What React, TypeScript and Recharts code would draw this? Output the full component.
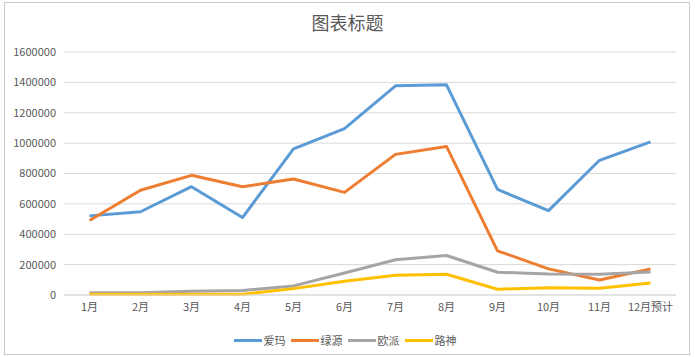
import React from 'react';
import {
  LineChart,
  Line,
  XAxis,
  YAxis,
  CartesianGrid,
  Legend,
} from 'recharts';

// category labels along the x axis
const MONTHS = ['1月', '2月', '3月', '4月', '5月', '6月', '7月', '8月', '9月', '10月', '11月', '12月预计'];

// series values
const AIMA = [521000, 548000, 713000, 510000, 962000, 1095000, 1377000, 1384000, 695000, 556000, 887000, 1008000];
const LVYUAN = [490000, 690000, 788000, 713000, 764000, 676000, 926000, 978000, 291000, 172000, 99000, 172000];
const OUPAI = [15000, 15000, 25000, 30000, 60000, 145000, 232000, 260000, 150000, 139000, 137000, 152000];
const LUSHEN = [5000, 5000, 5000, 5000, 42000, 90000, 130000, 137000, 38000, 48000, 44000, 79000];

const Y_TICKS = [0, 200000, 400000, 600000, 800000, 1000000, 1200000, 1400000, 1600000];

const SERIES = [
  { key: '爱玛', values: AIMA, color: '#5B9BD5' },
  { key: '绿源', values: LVYUAN, color: '#ED7D31' },
  { key: '欧派', values: OUPAI, color: '#A5A5A5' },
  { key: '路神', values: LUSHEN, color: '#FFC000' },
];

const data = MONTHS.map((month, i) => {
  const row: Record<string, string | number> = { month };
  SERIES.forEach((s) => {
    row[s.key] = s.values[i];
  });
  return row;
});

const FONT = '"Noto Sans CJK SC", "Noto Sans", sans-serif';
const TEXT_COLOR = '#595959';
const GRID_COLOR = '#D9D9D9';

// half of one category band (plot width 612 / 12), so points sit mid-band like excel
const BAND_PAD = 25.5;

// legend in the excel style: thick short line followed by the name, in series order
const renderLegend = () => (
  <div
    style={{
      display: 'flex',
      justifyContent: 'center',
      alignItems: 'center',
      height: 20,
      fontFamily: FONT,
      fontSize: 11,
      color: TEXT_COLOR,
    }}
  >
    {SERIES.map((s) => (
      <div key={s.key} style={{ display: 'flex', alignItems: 'center', marginRight: 5 }}>
        <div style={{ width: 28, height: 3, background: s.color, marginRight: 2 }} />
        <span>{s.key}</span>
      </div>
    ))}
  </div>
);

export default function App() {
  return (
    <div style={{ position: 'absolute', left: 0, top: 0, width: 695, height: 357, background: '#fff' }}>
      <div
        style={{
          position: 'absolute',
          left: 4,
          top: 2,
          width: 684,
          height: 351,
          border: '1px solid #C8C8C8',
        }}
      />
      <div
        style={{
          position: 'absolute',
          left: 0,
          top: 9,
          width: 695,
          textAlign: 'center',
          fontFamily: FONT,
          fontSize: 18,
          lineHeight: '26px',
          color: TEXT_COLOR,
        }}
      >
        图表标题
      </div>
      <LineChart
        width={695}
        height={357}
        data={data}
        margin={{ top: 52, right: 19, left: 0, bottom: 7 }}
        style={{ position: 'absolute', left: 0, top: 0 }}
      >
        <CartesianGrid vertical={false} stroke={GRID_COLOR} />
        <XAxis
          dataKey="month"
          height={35}
          interval={0}
          padding={{ left: BAND_PAD, right: BAND_PAD }}
          tickLine={false}
          axisLine={{ stroke: GRID_COLOR }}
          tick={{ fontSize: 11, fill: TEXT_COLOR, fontFamily: FONT }}
        />
        <YAxis
          width={64}
          domain={[0, 1600000]}
          ticks={Y_TICKS}
          interval={0}
          tickLine={false}
          axisLine={false}
          tick={{ fontSize: 11, fill: TEXT_COLOR, fontFamily: FONT }}
        />
        <Legend
          verticalAlign="bottom"
          content={renderLegend}
          wrapperStyle={{ left: 0, width: 695 }}
        />
        {SERIES.map((s) => (
          <Line
            key={s.key}
            type="linear"
            dataKey={s.key}
            stroke={s.color}
            strokeWidth={3}
            strokeLinejoin="round"
            dot={false}
            isAnimationActive={false}
          />
        ))}
      </LineChart>
    </div>
  );
}
